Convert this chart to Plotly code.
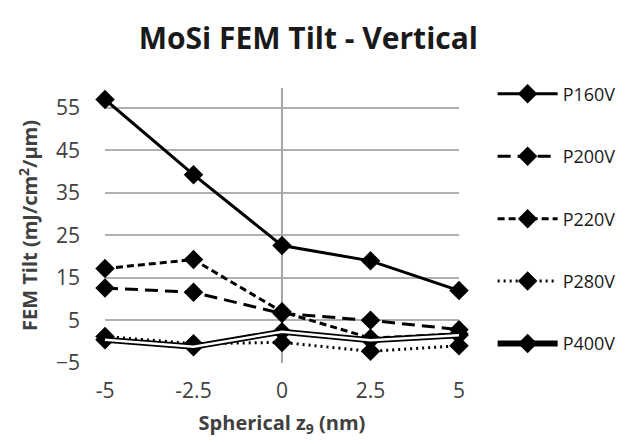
import plotly.graph_objects as go

x_vals = [-5, -2.5, 0, 2.5, 5]
p160v = [57.0, 39.3, 22.6, 19.0, 12.0]
p200v = [12.6, 11.6, 6.6, 5.0, 2.8]
p220v = [17.2, 19.3, 7.0, 0.8, 1.8]
p280v = [1.2, -0.5, -0.2, -2.3, -1.0]
p400v = [0.4, -1.2, 2.3, 0.3, 1.5]
y_ticks = [-5, 5, 15, 25, 35, 45, 55]
x_ticks = [-5, -2.5, 0, 2.5, 5]
x_tick_labels = ["-5", "-2.5", "0", "2.5", "5"]

FONT = "Open Sans"
marker = dict(symbol="diamond", size=15, color="black")

fig = go.Figure()
series = [
    ("P160V", p160v, "solid"),
    ("P200V", p200v, "13px,7px"),
    ("P220V", p220v, "7px,4px"),
    ("P280V", p280v, "2px,4px"),
]
for name, ys, dash in series:
    fig.add_trace(go.Scatter(
        x=x_vals, y=ys, name=name, mode="lines+markers",
        line=dict(color="black", width=3, dash=dash),
        marker=marker, legendgroup=name, cliponaxis=False,
    ))
fig.add_trace(go.Scatter(
    x=x_vals, y=p400v, name="P400V", mode="lines+markers",
    line=dict(color="black", width=6), marker=marker,
    legendgroup="P400V", cliponaxis=False,
))
fig.add_trace(go.Scatter(
    x=x_vals, y=p400v, name="P400V", mode="lines",
    line=dict(color="white", width=2.5),
    legendgroup="P400V", showlegend=False, cliponaxis=False,
))

fig.update_layout(
    width=639, height=444,
    margin=dict(l=97, r=188, t=80, b=89),
    paper_bgcolor="white", plot_bgcolor="white",
    font=dict(family=FONT, color="#404040", size=18),
    title=dict(text="<b>MoSi FEM Tilt - Vertical</b>", x=0.47, xanchor="center",
               y=0.932, yanchor="middle",
               font=dict(family=FONT, size=30, color="#1a1a1a")),
    showlegend=True,
    legend=dict(x=1.095, xanchor="left", y=1.045, yanchor="top",
                font=dict(family=FONT, size=18, color="#1a1a1a"),
                tracegroupgap=36, itemwidth=60, maxheight=1.0,
                bgcolor="rgba(0,0,0,0)"),
    xaxis=dict(range=[-5, 5], tickvals=x_ticks, ticktext=x_tick_labels,
               showgrid=False, zeroline=True, zerolinecolor="#a6a6a6",
               zerolinewidth=1.5, showline=False, ticks="", automargin=False,
               tickfont=dict(size=21), ticklabelstandoff=13,
               title=dict(text="<b>Spherical z<sub>9</sub> (nm)</b>",
                          font=dict(size=20, color="#404040"), standoff=12)),
    yaxis=dict(range=[-5.05, 59.7], tickvals=y_ticks, showgrid=True,
               gridcolor="#b0b0b0", gridwidth=1.5, zeroline=False,
               showline=False, ticks="", tickfont=dict(size=21), automargin=False,
               ticklabelstandoff=24,
               title=dict(text="<b>FEM Tilt (mJ/cm<sup>2</sup>/µm)</b>",
                          font=dict(size=20, color="#404040"), standoff=12)),
)

fig.write_html("out.html")
